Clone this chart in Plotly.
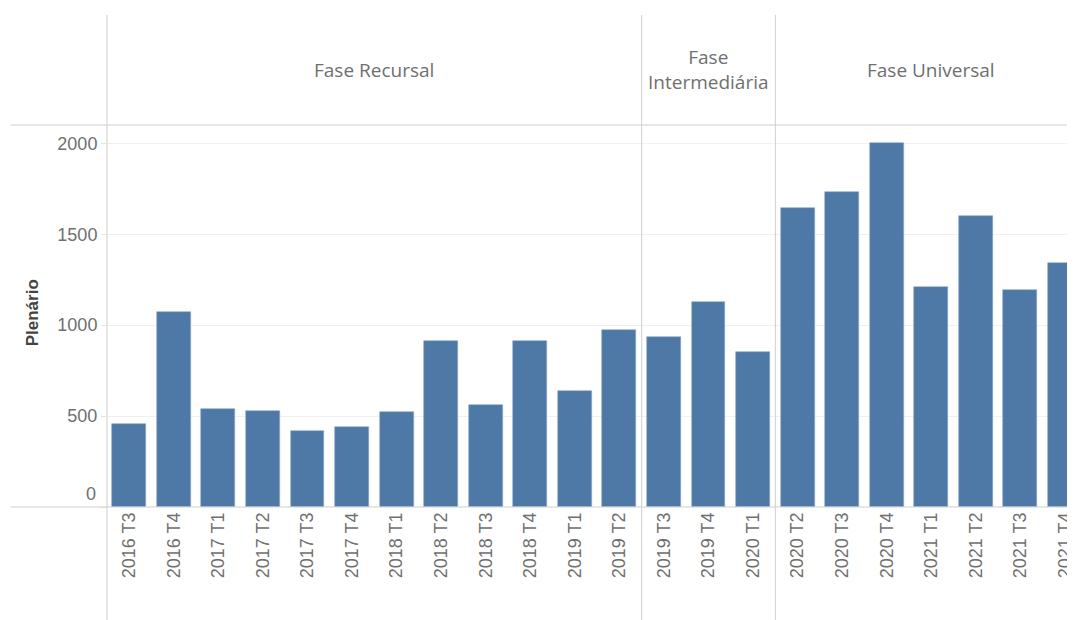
import plotly.graph_objects as go

# trimestres e valores do plenário
quarters = ["2016 T3", "2016 T4", "2017 T1", "2017 T2", "2017 T3", "2017 T4",
            "2018 T1", "2018 T2", "2018 T3", "2018 T4", "2019 T1", "2019 T2",
            "2019 T3", "2019 T4", "2020 T1",
            "2020 T2", "2020 T3", "2020 T4", "2021 T1", "2021 T2", "2021 T3", "2021 T4"]
plenario = [455, 1071, 537, 530, 419, 440, 521, 913, 563, 913, 638, 973,
            933, 1129, 851,
            1642, 1732, 2003, 1212, 1602, 1192, 1341]
phases = ["Fase Recursal", "Fase Intermediária", "Fase Universal"]
phase_sizes = [12, 3, 7]
y_ticks = [0, 500, 1000, 1500, 2000]

# a página tem margem de 8px no body, então a figura fica 8px menor
OFF = 8
W, H = 1075 - OFF, 620 - OFF
ML, MT = 107 - OFF, 125 - OFF
MB = H - (506.7 - OFF)
BLUE = "#4e79a7"
LINE = "#cfcfcf"
TXT = "#6f6f6f"
TICK_FONT = dict(family="Liberation Sans", size=18, color=TXT)

x_pos = list(range(len(quarters)))
x_range = [-0.5, 21.18]
plot_h = H - MT - MB
plot_w = W - ML


def py(y_page):
    return (H - MB - (y_page - OFF)) / plot_h


def px(x_page):
    return (x_page - OFF - ML) / plot_w


def x_to_paper(x):
    return (x - x_range[0]) / (x_range[1] - x_range[0])


fig = go.Figure()
fig.add_trace(go.Bar(
    x=x_pos, y=plenario, width=0.76,
    marker=dict(color=BLUE, line=dict(color="#8aa6c4", width=0.6)),
    hovertemplate="%{text}: %{y}<extra></extra>", text=quarters, textposition="none",
))

shapes = []
# bordas do cabeçalho e da base
for yp in [0, 1]:
    shapes.append(dict(type="line", xref="paper", yref="paper",
                       x0=px(10), x1=1, y0=yp, y1=yp,
                       line=dict(color=LINE, width=1)))
shapes.append(dict(type="line", xref="paper", yref="paper", x0=0, x1=0,
                   y0=py(620), y1=py(15), line=dict(color=LINE, width=1)))

annotations = []
start = 0
for i, (name, n) in enumerate(zip(phases, phase_sizes)):
    end = start + n
    if i < len(phases) - 1:
        xp = x_to_paper(end - 0.5)
        shapes.append(dict(type="line", xref="paper", yref="paper", x0=xp, x1=xp,
                           y0=py(620), y1=py(15), line=dict(color=LINE, width=1)))
    label = name.replace(" ", "<br>") if name == "Fase Intermediária" else name
    annotations.append(dict(text=label, x=(start + end - 1) / 2, xref="x",
                            y=py(70), yref="paper", showarrow=False,
                            xanchor="center", yanchor="middle",
                            font=dict(family="Open Sans", size=19, color=TXT)))
    start = end

annotations.append(dict(text="<b>Plenário</b>", textangle=-90, xref="paper", yref="paper",
                        x=px(32), y=py(313), showarrow=False,
                        xanchor="center", yanchor="middle",
                        font=dict(family="Liberation Sans", size=17, color="#444444")))

# o rótulo do zero fica um pouco acima da linha de base, como no Tableau
y_text = [str(v) for v in y_ticks]
annotations.append(dict(text=y_text[0], x=0, xref="paper", y=y_ticks[0], yref="y",
                        xanchor="right", yanchor="middle", xshift=-9, yshift=13,
                        showarrow=False, font=TICK_FONT))
y_text[0] = ""

fig.update_layout(
    width=W, height=H,
    margin=dict(l=ML, r=0, t=MT, b=MB),
    plot_bgcolor="white", paper_bgcolor="white",
    showlegend=False, bargap=0,
    shapes=shapes, annotations=annotations,
    xaxis=dict(range=x_range, tickmode="array", tickvals=x_pos, ticktext=quarters,
               tickangle=-90, showgrid=False, zeroline=False, showline=False,
               ticks="", ticklabelstandoff=1, ticklabeloverflow="allow",
               tickfont=TICK_FONT),
    yaxis=dict(range=[0, 2101], tickmode="array", tickvals=y_ticks, ticktext=y_text,
               showgrid=True, gridcolor="#f0f0f0",
               zeroline=False, showline=False, ticks="outside", ticklen=5,
               tickcolor="#e4e4e4", ticklabelstandoff=0,
               tickfont=TICK_FONT),
)

fig.write_html("out.html")
